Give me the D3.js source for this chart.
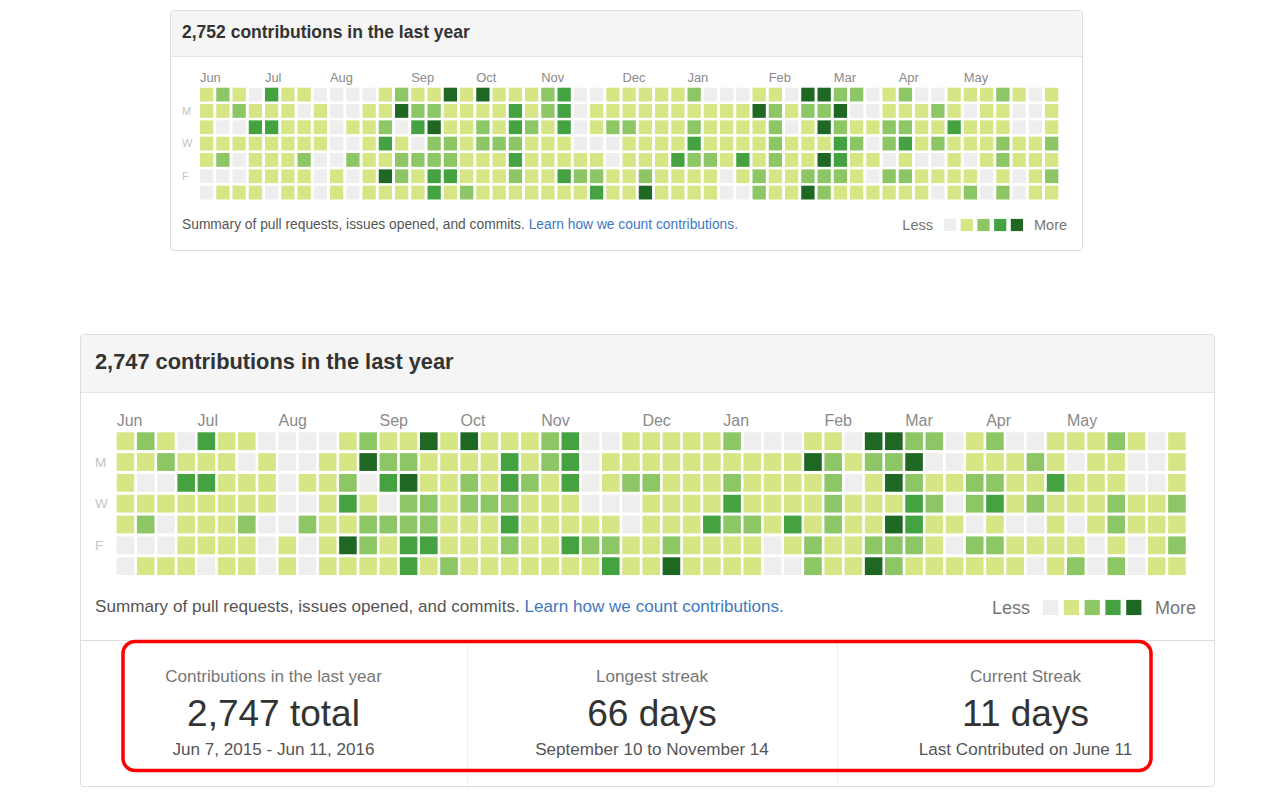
<!DOCTYPE html>
<html>
<head>
<meta charset="utf-8">
<script src="https://cdn.jsdelivr.net/npm/d3@7"></script>
<style>
  html, body { margin: 0; padding: 0; background: #ffffff; }
  svg { display: block; }
  text { font-family: "Liberation Sans", Arial, Helvetica, sans-serif; }
</style>
</head>
<body>
<script>
// ---------------- DATA ----------------
const panelTitles = ["2,752 contributions in the last year", "2,747 contributions in the last year"];
const firstWeekStart = "2015-06-07";           // Sunday of the first column
const monthLabels = ["Jun", "Jul", "Aug", "Sep", "Oct", "Nov", "Dec", "Jan", "Feb", "Mar", "Apr", "May"];
const dayLabels = ["", "M", "", "W", "", "F", ""];
const levelColors = ["#eeeeee", "#d6e685", "#8cc665", "#44a340", "#1e6823"];

// contribution level (0-4) per week column, one array per weekday
const sunLevels = [1,2,1,0,3,1,1,0,0,0, 0,1,2,1,1,4,1,4,1,1, 1,2,3,0,0,1,1,1,1,1, 2,0,0,0,1,1,0,4,4,2, 2,0,1,2,0,0,1,1,1,2, 1,0,1];
const monLevels = [1,1,2,1,1,1,0,1,0,0, 1,1,4,2,2,1,1,1,1,3, 1,2,3,0,1,1,1,1,1,1, 1,1,1,1,4,2,1,2,2,4, 0,0,1,1,1,2,1,0,1,1, 0,0,1];
const tueLevels = [1,0,0,3,3,1,1,1,0,1, 1,2,0,3,4,1,1,2,1,3, 2,1,3,0,1,2,2,1,1,1, 2,1,1,1,1,2,0,1,4,2, 1,1,2,2,1,1,3,1,1,1, 0,0,1];
const wedLevels = [1,1,1,1,1,1,1,1,0,0, 1,3,1,0,2,2,1,2,2,2, 1,1,1,0,0,0,1,1,1,1, 3,1,1,1,1,2,1,1,1,3, 2,0,2,3,1,2,1,1,1,2, 1,1,2];
const thuLevels = [1,2,0,1,1,1,2,0,0,2, 1,1,2,2,2,2,1,1,1,3, 1,1,1,1,1,0,1,1,1,3, 2,2,1,3,1,2,1,1,4,3, 1,1,0,1,0,0,1,0,1,2, 1,1,1];
const friLevels = [0,0,0,1,1,1,1,0,1,0, 1,4,2,1,3,3,1,1,1,2, 1,1,3,2,2,1,1,2,1,1, 1,1,0,1,2,1,1,2,2,2, 1,0,2,2,1,1,1,1,0,1, 0,1,2];
const satLevels = [0,1,1,1,0,1,1,0,1,0, 1,1,1,1,3,1,2,1,1,1, 1,1,1,1,3,1,1,4,1,1, 1,1,0,0,2,1,1,4,2,1, 1,1,1,1,1,0,1,2,0,2, 0,1,1];

const footerText = "Summary of pull requests, issues opened, and commits. ";
const footerLink = "Learn how we count contributions.";

const statLabels = ["Contributions in the last year", "Longest streak", "Current Streak"];
const statValues = ["2,747 total", "66 days", "11 days"];
const statSubs = ["Jun 7, 2015 - Jun 11, 2016", "September 10 to November 14", "Last Contributed on June 11"];

// ---------------- BUILD ----------------
const weekRows = [sunLevels, monLevels, tueLevels, wedLevels, thuLevels, friLevels, satLevels];
const nWeeks = sunLevels.length;
const cells = [];
weekRows.forEach((row, d) => row.forEach((lv, w) => cells.push({week: w, day: d, level: lv})));

const parse = d3.timeParse("%Y-%m-%d");
const start = parse(firstWeekStart);
const fmtMonth = d3.timeFormat("%b");
const monthCols = [];
let used = new Set();
for (let w = 0; w < nWeeks - 2; w++) {
  const m = fmtMonth(d3.timeWeek.offset(start, w));
  if (monthLabels.includes(m) && !used.has(m)) { used.add(m); monthCols.push({label: m, week: w}); }
}

const svg = d3.select("body").append("svg").attr("width", 1280).attr("height", 800);

const panels = [
  { title: panelTitles[0], x: 170, y: 10, w: 912, h: 240, headerH: 46, titleX: 182, titleY: 38, titleSize: 17.5,
    gx: 200, gy: 87.7, stepX: 16.25, stepY: 16.33, cellW: 13.3, cellH: 13.8,
    monthY: 81.5, monthSize: 12.9, dayX: 182, daySize: 11, footY: 224, footSize: 13.8,
    lessEnd: 933, legX: 944, legSize: 12.2, legStep: 16.7, moreX: 1034, legFont: 14.5, stats: false },
  { title: panelTitles[1], x: 80, y: 334, w: 1134, h: 452, headerH: 58, titleX: 95, titleY: 369, titleSize: 21.8,
    gx: 116.7, gy: 432.3, stepX: 20.22, stepY: 20.83, cellW: 17.6, cellH: 17.8,
    monthY: 425.5, monthSize: 16, dayX: 95, daySize: 13.5, footY: 606.5, footSize: 17.1,
    lessEnd: 1030, legX: 1043, legSize: 15.2, legStep: 20.8, moreX: 1155, legFont: 18, stats: true }
];

panels.forEach(p => {
  const g = svg.append("g");
  // frame
  g.append("rect").attr("x", p.x + 0.5).attr("y", p.y + 0.5).attr("width", p.w).attr("height", p.h)
    .attr("rx", 3).attr("fill", "#fff").attr("stroke", "#dddddd");
  // header
  g.append("path")
    .attr("d", `M${p.x+1},${p.y+p.headerH} V${p.y+4} Q${p.x+1},${p.y+1} ${p.x+4},${p.y+1} H${p.x+p.w-3} Q${p.x+p.w},${p.y+1} ${p.x+p.w},${p.y+4} V${p.y+p.headerH} Z`)
    .attr("fill", "#f5f5f5");
  g.append("line").attr("x1", p.x + 1).attr("x2", p.x + p.w).attr("y1", p.y + p.headerH + 0.5).attr("y2", p.y + p.headerH + 0.5)
    .attr("stroke", "#e5e5e5");
  g.append("text").attr("x", p.titleX).attr("y", p.titleY).attr("font-size", p.titleSize)
    .attr("font-weight", "bold").attr("fill", "#333").text(p.title);

  const x = d3.scaleLinear().domain([0, nWeeks]).range([p.gx, p.gx + nWeeks * p.stepX]);
  const y = d3.scaleLinear().domain([0, 7]).range([p.gy, p.gy + 7 * p.stepY]);
  const color = d3.scaleOrdinal().domain([0, 1, 2, 3, 4]).range(levelColors);

  g.append("g").selectAll("rect").data(cells).join("rect")
    .attr("x", d => x(d.week)).attr("y", d => y(d.day))
    .attr("width", p.cellW).attr("height", p.cellH)
    .attr("fill", d => color(d.level));

  g.append("g").selectAll("text").data(monthCols).join("text")
    .attr("x", d => x(d.week)).attr("y", p.monthY).attr("font-size", p.monthSize)
    .attr("fill", "#8a8a8a").text(d => d.label);

  g.append("g").selectAll("text").data(dayLabels).join("text")
    .attr("x", p.dayX).attr("y", (d, i) => y(i) + p.cellH / 2).attr("dy", "0.35em")
    .attr("font-size", p.daySize).attr("fill", "#c4c4c4").text(d => d);

  // footer
  const ft = g.append("text").attr("x", p.titleX).attr("y", p.footY).attr("dy", "0.35em")
    .attr("font-size", p.footSize).attr("fill", "#555");
  ft.append("tspan").text(footerText);
  ft.append("tspan").attr("fill", "#4078c0").text(footerLink);

  g.append("text").attr("x", p.lessEnd).attr("y", p.footY + 1).attr("dy", "0.35em").attr("text-anchor", "end")
    .attr("font-size", p.legFont).attr("fill", "#767676").text("Less");
  g.append("g").selectAll("rect").data(levelColors).join("rect")
    .attr("x", (d, i) => p.legX + i * p.legStep).attr("y", p.footY + 1 - p.legSize / 2)
    .attr("width", p.legSize).attr("height", p.legSize).attr("fill", d => d);
  g.append("text").attr("x", p.moreX).attr("y", p.footY + 1).attr("dy", "0.35em")
    .attr("font-size", p.legFont).attr("fill", "#767676").text("More");

  if (p.stats) {
    const top = 640;
    g.append("line").attr("x1", p.x + 1).attr("x2", p.x + p.w).attr("y1", top + 0.5).attr("y2", top + 0.5)
      .attr("stroke", "#dddddd");
    const bounds = [p.x, 467, 837, p.x + p.w];
    [467, 837].forEach(vx => g.append("line").attr("x1", vx + 0.5).attr("x2", vx + 0.5)
      .attr("y1", top + 1).attr("y2", p.y + p.h).attr("stroke", "#eeeeee"));
    const sg = g.append("g").selectAll("g").data(statLabels).join("g")
      .attr("transform", (d, i) => `translate(${(bounds[i] + bounds[i + 1]) / 2},0)`);
    sg.append("text").attr("y", 682).attr("text-anchor", "middle").attr("font-size", 17.1)
      .attr("fill", "#767676").text(d => d);
    sg.append("text").attr("y", 726).attr("text-anchor", "middle").attr("font-size", 37)
      .attr("fill", "#333").text((d, i) => statValues[i]);
    sg.append("text").attr("y", 755).attr("text-anchor", "middle").attr("font-size", 17.1)
      .attr("fill", "#555").text((d, i) => statSubs[i]);

    // red highlight annotation
    g.append("rect").attr("x", 123).attr("y", 641.5).attr("width", 1028).attr("height", 129)
      .attr("rx", 12).attr("fill", "none").attr("stroke", "#ff0000").attr("stroke-width", 3.5);
  }
});
</script>
</body>
</html>
